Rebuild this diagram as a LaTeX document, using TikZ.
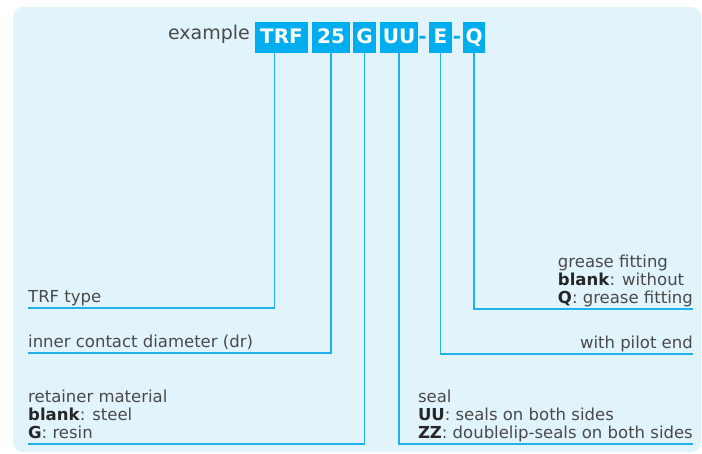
\documentclass[tikz,border=0pt]{standalone}
\usepackage{fontspec}
\setmainfont{DejaVu Sans}
\usepackage{xcolor}
\usetikzlibrary{positioning}

\definecolor{panelblue}{HTML}{E1F3FB}
\definecolor{codecyan}{HTML}{00AEEF}
\definecolor{leadcyan}{HTML}{1EB1EA}
\definecolor{labelgray}{HTML}{4A4A4A}

\newcommand{\keyword}[1]{\textcolor{black!85}{\textbf{#1}}}

\tikzset{
    codebox/.style={fill=codecyan, text=white, font=\bfseries\fontsize{20}{22}\selectfont,
        inner sep=0pt, text height=21.6pt, text depth=9.4pt, anchor=north},
    codedash/.style={text=codecyan, font=\bfseries\fontsize{20}{22}\selectfont, inner sep=0pt, anchor=base},
    label/.style={text=labelgray, font=\fontsize{16.5}{18}\selectfont, align=left, inner sep=0pt},
    lead/.style={draw=leadcyan, line width=1.5pt}
}

\begin{document}
\begin{tikzpicture}[x=1pt, y=-1pt]
        \useasboundingbox (0, 0) rectangle (702, 453);
        \fill[panelblue, rounded corners=10pt] (13, 7) rectangle (701, 452);

        % code
        \node[anchor=base east, text=labelgray, font=\fontsize{19}{22}\selectfont, inner sep=0pt] (example) at (250, 39.5) {example};
        \node[codebox, minimum width=53pt] (trf) at (281.5, 22) {TRF};
        \node[codebox, minimum width=38pt] (size) at (331, 22) {25};
        \node[codebox, minimum width=23pt] (ret) at (364.5, 22) {G};
        \node[codebox, minimum width=38pt] (seal) at (399, 22) {UU};
        \node[codedash] (dasha) at (422.5, 43.6) {-};
        \node[codebox, minimum width=23pt] (pilot) at (440.5, 22) {E};
        \node[codedash] (dashb) at (457, 43.6) {-};
        \node[codebox, minimum width=22pt] (grease) at (474, 22) {Q};

        % labels
        \node[label, anchor=south west] (trftype) at (28, 308) {TRF type\strut};
        \node[label, anchor=south west] (sizetext) at (28, 353) {inner contact diameter (dr)\strut};
        \node[label, anchor=south west] (rettext) at (28, 444) {retainer material\\ \keyword{blank}: steel\\ \keyword{G}: resin\strut};
        \node[label, anchor=south east] (greasetext) at (693, 309) {grease fitting\\ \keyword{blank}: without\\ \keyword{Q}: grease fitting\strut};
        \node[label, anchor=south east] (pilottext) at (693, 354) {with pilot end\strut};
        \node[label, anchor=south east] (sealtext) at (693, 444) {seal\\ \keyword{UU}: seals on both sides\\ \keyword{ZZ}: doublelip-seals on both sides\strut};

        \draw[lead] ([xshift=-7pt]trf.south) |- (trftype.south west);
        \draw[lead] (size.south) |- (sizetext.south west);
        \draw[lead] (ret.south) |- (rettext.south west);
        \draw[lead] (seal.south) |- (sealtext.south east);
        \draw[lead] (pilot.south) |- (pilottext.south east);
        \draw[lead] (grease.south) |- (greasetext.south east);
\end{tikzpicture}
\end{document}
